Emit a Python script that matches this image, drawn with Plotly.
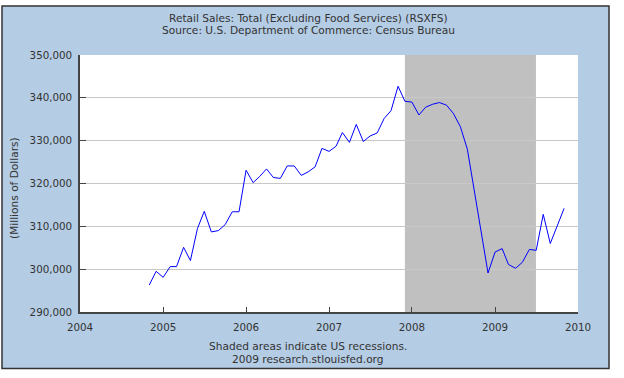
import pandas as pd
import plotly.graph_objects as go

# ---- data ----
start_month = "2004-11-01"
sales = [
    296300, 299500,                                                      # 2004 Nov-Dec
    298100, 300600, 300600, 305100, 302000, 309500, 313500, 308700,
    309000, 310400, 313400, 313400,                                      # 2005
    323100, 320200, 321600, 323400, 321400, 321200, 324100, 324100,
    321900, 322700, 323900, 328200,                                      # 2006
    327500, 328700, 331900, 329600, 333800, 329800, 331100, 331800,
    335200, 337000, 342700, 339200,                                      # 2007
    339000, 336000, 337800, 338500, 338900, 338300, 336400, 333300,
    328000, 318500, 308300, 299100,                                      # 2008
    304000, 304800, 301100, 300200, 301600, 304600, 304400, 312800,
    306000, 310100, 314200,                                              # 2009
]
months = pd.date_range(start_month, periods=len(sales), freq="MS")

recession_start = "2007-12-01"
recession_end = "2009-06-30"

title_lines = ["Retail Sales: Total (Excluding Food Services) (RSXFS)",
               "Source: U.S. Department of Commerce: Census Bureau"]
note_lines = ["Shaded areas indicate US recessions.",
              "2009 research.stlouisfed.org"]
y_title = "(Millions of Dollars)"

# ---- layout geometry (pixels) ----
W, H = 624, 378
L, R, T, B = 80, 578, 55, 312
pw, ph = R - L, B - T


def px(xp):
    return (xp - L) / pw


def py(yp):
    return (B - yp) / ph


FONT = "DejaVu Sans"
TXT = "#333333"

fig = go.Figure()
fig.add_trace(go.Scatter(x=months, y=sales, mode="lines",
                         line=dict(color="#0000ff", width=1),
                         hoverinfo="x+y", showlegend=False))

# outer blue panel
fig.add_shape(type="rect", xref="paper", yref="paper",
              x0=px(2), x1=px(609), y0=py(368.5), y1=py(6),
              fillcolor="#b4cce4", line=dict(color="#333333", width=1.5),
              layer="below")
# plot area background
fig.add_shape(type="rect", xref="paper", yref="paper",
              x0=0, x1=1, y0=0, y1=1,
              fillcolor="white", line=dict(width=0), layer="below")
# recession shading
fig.add_shape(type="rect", xref="x", yref="paper",
              x0=recession_start, x1=recession_end, y0=0, y1=1,
              fillcolor="#c0c0c0", line=dict(width=0), layer="between")

anns = []
for t, yc in zip(title_lines, [17.5, 30]):
    anns.append(dict(text=t, x=px(308), y=py(yc), xref="paper", yref="paper",
                     showarrow=False, xanchor="center", yanchor="middle",
                     font=dict(family=FONT, size=10.6, color=TXT)))
for t, yc in zip(note_lines, [346, 358.5]):
    anns.append(dict(text=t, x=px(308), y=py(yc), xref="paper", yref="paper",
                     showarrow=False, xanchor="center", yanchor="middle",
                     font=dict(family=FONT, size=10.6, color=TXT)))
anns.append(dict(text=y_title, x=px(14), y=py(188), xref="paper", yref="paper",
                 showarrow=False, textangle=-90, xanchor="center", yanchor="middle",
                 font=dict(family=FONT, size=10.6, color=TXT)))

fig.update_layout(
    width=W, height=H,
    margin=dict(l=L, r=W - R, t=T, b=H - B, pad=0),
    paper_bgcolor="white", plot_bgcolor="rgba(0,0,0,0)",
    font=dict(family=FONT, size=10, color=TXT),
    annotations=anns,
    showlegend=False,
)
fig.update_xaxes(type="date", range=["2004-01-01", "2010-01-01"],
                 dtick="M12", tickformat="%Y", tick0="2004-01-01",
                 ticks="inside", ticklen=5, tickcolor="#444444",
                 ticklabelstandoff=5,
                 showgrid=False, showline=True, linecolor="#444444", linewidth=1.5,
                 zeroline=False, tickfont=dict(family=FONT, size=10.3, color=TXT))
fig.update_yaxes(range=[290000, 350000], dtick=10000, tickformat=",d",
                 ticks="inside", ticklen=6, tickcolor="#444444",
                 ticklabelstandoff=4,
                 showgrid=True, gridcolor="#c8c8c8", gridwidth=1,
                 showline=True, linecolor="#444444", linewidth=1.5,
                 zeroline=False, tickfont=dict(family=FONT, size=10.3, color=TXT))

fig.write_html("out.html",
               config={"displayModeBar": False},
               post_script="document.body.style.margin='0';document.body.style.padding='0';")
